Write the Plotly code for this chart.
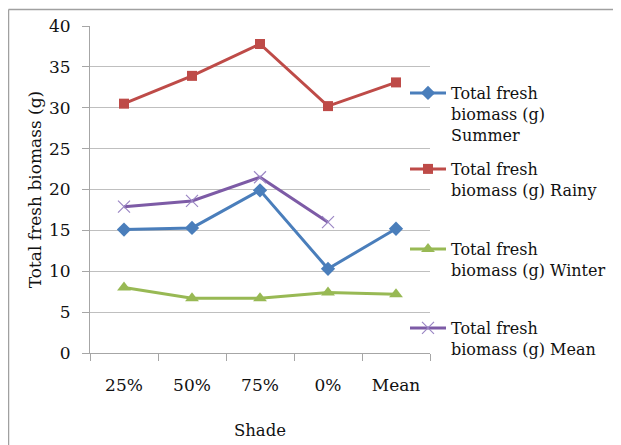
import plotly.graph_objects as go

categories = ["25%", "50%", "75%", "0%", "Mean"]
summer = [15.1, 15.3, 19.9, 10.3, 15.2]
rainy = [30.5, 33.9, 37.8, 30.2, 33.1]
winter = [8.0, 6.7, 6.7, 7.4, 7.2]
mean = [17.9, 18.6, 21.5, 16.0, None]

names = [
    "Total fresh<br>biomass (g)<br>Summer",
    "Total fresh<br>biomass (g) Rainy",
    "Total fresh<br>biomass (g) Winter",
    "Total fresh<br>biomass (g) Mean",
]

FONT = "DejaVu Serif"
OFF = 8  # page body margin
W, H = 621 - OFF, 445 - OFF
L, R, T, B = 90 - OFF, 621 - 430, 26 - OFF, 445 - 353
pw, ph = W - L - R, H - T - B

def px_x(p):
    return (p - OFF - L) / pw

def px_y(p):
    return (H - B - (p - OFF)) / ph

fig = go.Figure()
fig.add_trace(go.Scatter(x=categories, y=summer, name=names[0], mode="lines+markers",
                         line=dict(color="#4A7EBB", width=3),
                         marker=dict(symbol="diamond", size=11, color="#4A7EBB"),
                         legend="legend"))
fig.add_trace(go.Scatter(x=categories, y=rainy, name=names[1], mode="lines+markers",
                         line=dict(color="#BE4B48", width=3),
                         marker=dict(symbol="square", size=10, color="#BE4B48"),
                         legend="legend2"))
fig.add_trace(go.Scatter(x=categories, y=winter, name=names[2], mode="lines+markers",
                         line=dict(color="#98B954", width=3),
                         marker=dict(symbol="triangle-up", size=12, color="#98B954"),
                         legend="legend3"))
fig.add_trace(go.Scatter(x=categories, y=mean, name=names[3], mode="lines+markers",
                         line=dict(color="#7D5BA6", width=3),
                         marker=dict(symbol="x-thin", size=12,
                                     line=dict(color="#9B86C4", width=1.2)),
                         legend="legend4"))

legend_tops = [76, 152, 232, 311]
leg_common = dict(font=dict(family=FONT, size=16, color="#111"), bgcolor="rgba(0,0,0,0)",
                  xanchor="left", yanchor="top", valign="top", itemwidth=36)
legends = {}
for i, top in enumerate(legend_tops):
    key = "legend" if i == 0 else f"legend{i+1}"
    legends[key] = dict(x=px_x(405), y=px_y(top), **leg_common)

grid = "#BFBFBF"
fig.update_layout(
    width=W, height=H,
    margin=dict(l=L, r=R, t=T, b=B, autoexpand=False),
    paper_bgcolor="white", plot_bgcolor="white",
    font=dict(family=FONT, size=17, color="#111"),
    showlegend=True,
    xaxis=dict(type="category", showgrid=False, showline=True, linecolor="#A6A6A6",
               linewidth=1, ticks="outside", tickson="boundaries", ticklen=7,
               tickcolor="#A6A6A6", ticklabelstandoff=17,
               tickfont=dict(family=FONT, size=17, color="#111"),
               title=dict(text="Shade", font=dict(family=FONT, size=16.5, color="#111"),
                          standoff=30),
               range=[-0.5, 4.5], fixedrange=True),
    yaxis=dict(range=[0, 40], dtick=5, showgrid=True, gridcolor=grid, gridwidth=1,
               showline=True, linecolor="#A6A6A6", linewidth=1, ticks="outside",
               ticklen=7, tickcolor="#A6A6A6", ticklabelstandoff=8, zeroline=False,
               tickfont=dict(family=FONT, size=17, color="#111"),
               title=dict(text="Total fresh biomass (g)",
                          font=dict(family=FONT, size=17, color="#111"), standoff=3),
               fixedrange=True),
    **legends,
    shapes=[
        dict(type="line", xref="paper", yref="paper", x0=px_x(8.5), x1=px_x(8.5),
             y0=px_y(460), y1=px_y(9.5), line=dict(color="#A0A0A0", width=1.5)),
        dict(type="line", xref="paper", yref="paper", x0=px_x(8.5), x1=px_x(640),
             y0=px_y(9.5), y1=px_y(9.5), line=dict(color="#A0A0A0", width=1.5)),
    ],
)

fig.write_html("out.html")
